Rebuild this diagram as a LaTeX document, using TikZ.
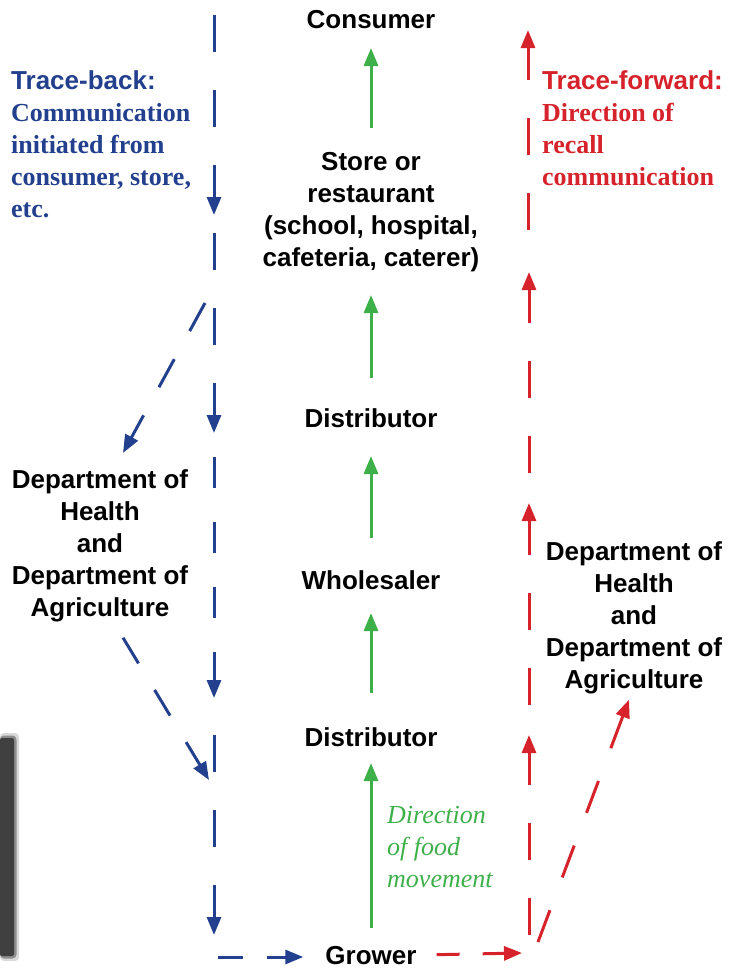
\documentclass[tikz,border=0pt]{standalone}
\usepackage{fontspec}
\setmainfont{Liberation Serif}
\setsansfont{Liberation Sans}
\usetikzlibrary{arrows.meta,calc}

\definecolor{traceblue}{RGB}{35,64,142}
\definecolor{tracered}{RGB}{214,35,43}
\definecolor{foodgreen}{RGB}{62,176,74}

\tikzset{
    stage/.style={font=\sffamily\bfseries\fontsize{26}{32}\selectfont, align=center, inner sep=0pt, anchor=base},
    note/.style={font=\bfseries\fontsize{26}{32}\selectfont, align=left, inner sep=0pt, anchor=base west},
    tip/.style={-{Triangle[length=18pt,width=14pt]}},
    food/.style={tip, foodgreen, line width=3pt},
    backdash/.style={tip, traceblue, line width=3pt, dash pattern=on 37pt off 38pt},
    fwddash/.style={tip, tracered, line width=3pt, dash pattern=on 37pt off 38pt}
}

\begin{document}
\begin{tikzpicture}[x=1pt,y=-1pt]
    \useasboundingbox (0,0) rectangle (735,972);

    % shadow on the left edge
    \foreach \w/\o in {5/0.15,2.5/0.35}
        \fill[black, opacity=\o, rounded corners=4pt] (0,{738-\w}) rectangle ({14+\w},{956+\w});
    \fill[black!75, rounded corners=2pt] (0,738) rectangle (14,956);

    % food chain (base = baseline of the last line)
    \node [stage] (consumer) at (371,28) {Consumer};
    \node [stage] (store) at (371,266) {Store or\\restaurant\\(school, hospital,\\cafeteria, caterer)};
    \node [stage] (dist1) at (371,427) {Distributor};
    \node [stage] (whole) at (371,589) {Wholesaler};
    \node [stage] (dist2) at (371,746) {Distributor};
    \node [stage] (grower) at (371,964) {Grower};
    \node [stage] (ldept) at (100,616) {Department of\\Health\\and\\Department of\\Agriculture};
    \node [stage] (rdept) at (634,688) {Department of\\Health\\and\\Department of\\Agriculture};

    \node [note, traceblue] (backnote) at (11,217) {{\sffamily Trace-back:}\\Communication\\initiated from\\consumer, store,\\etc.};
    \node [note, tracered] (fwdnote) at (542,185) {{\sffamily Trace-forward:}\\Direction of\\recall\\communication};
    \node [note, foodgreen, font=\itshape\fontsize{26}{32}\selectfont] (foodnote) at (387,887) {Direction\\of food\\movement};

    \draw [food] ($(store.base)+(0,-138)$) -- ($(consumer.base)+(0,20)$);
    \draw [food] ($(dist1.base)+(0,-49)$) -- ($(store.base)+(0,29)$);
    \draw [food] ($(whole.base)+(0,-51)$) -- ($(dist1.base)+(0,29)$);
    \draw [food] ($(dist2.base)+(0,-53)$) -- ($(whole.base)+(0,24)$);
    \draw [food] ($(grower.base)+(0,-36)$) -- ($(dist2.base)+(0,17)$);

    % trace-back
    \coordinate (back0) at (214,15);
    \coordinate (back1) at (214,215);
    \coordinate (back2) at (214,233);
    \coordinate (back3) at (214,433);
    \coordinate (back4) at (214,457);
    \coordinate (back5) at (214,698);
    \coordinate (back6) at (214,735);
    \coordinate (back7) at (214,935);
    \coordinate (backturn) at (218,957);
    \coordinate (backfork) at (205,303);
    \coordinate (backjoin) at (209,780);
    \draw [backdash] (back0) -- (back1);
    \draw [backdash] (back2) -- (back3);
    \draw [backdash, dash pattern=on 31pt off 34pt] (back4) -- (back5);
    \draw [backdash] (back6) -- (back7);
    \draw [backdash, dash pattern=on 25pt off 24pt, shorten >=22pt] (backturn) -- (backturn -| grower.west);
    \draw [backdash, dash pattern=on 32pt off 32pt] (backfork) -- ($(ldept.north)+(23,-16)$);
    \draw [backdash, dash pattern=on 30pt off 31pt] ($(ldept.south)+(23,16)$) -- (backjoin);

    % trace-forward
    \coordinate (fwd0) at (529,935);
    \coordinate (fwd1) at (529,735);
    \coordinate (fwd2) at (529,705);
    \coordinate (fwd3) at (529,503);
    \coordinate (fwd4) at (529,473);
    \coordinate (fwd5) at (529,272);
    \coordinate (fwd6) at (528,230);
    \coordinate (fwd7) at (528,30);
    \coordinate (fwdturn) at (522,953);
    \coordinate (fwdfork) at (538,942);
    \draw [fwddash, dash pattern=on 23pt off 23pt, shorten <=20pt] (grower.east) -- (fwdturn);
    \draw [fwddash] (fwd0) -- (fwd1);
    \draw [fwddash] (fwd2) -- (fwd3);
    \draw [fwddash] (fwd4) -- (fwd5);
    \draw [fwddash] (fwd6) -- (fwd7);
    \draw [fwddash, dash pattern=on 34pt off 35pt] (fwdfork) -- ($(rdept.south)+(-5,6)$);
\end{tikzpicture}
\end{document}
